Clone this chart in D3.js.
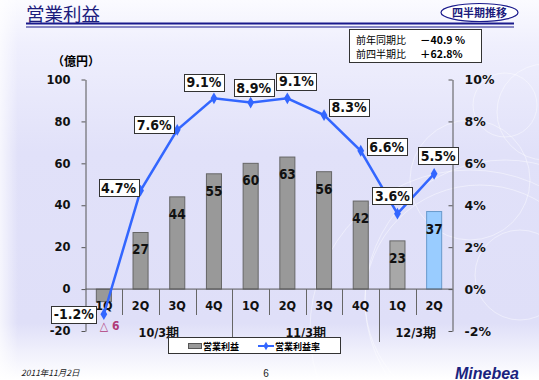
<!DOCTYPE html>
<html><head><meta charset="utf-8">
<script src="https://cdn.jsdelivr.net/npm/d3@7"></script>
<style>
body{margin:0;background:#fff}
svg{display:block}
.cn{font-family:"DejaVu Sans Condensed","DejaVu Sans",sans-serif;font-stretch:condensed;font-weight:bold}
.dj{font-family:"DejaVu Sans",sans-serif;font-weight:bold}
.jp{font-family:"Noto Sans CJK JP",sans-serif}
</style></head><body>
<svg id="c" width="539" height="380"></svg>
<script>
// ---- data ----
const quarters = ["1Q","2Q","3Q","4Q","1Q","2Q","3Q","4Q","1Q","2Q"];
const fiscalYears = ["10/3期","11/3期","12/3期"];
const fiscalOf = [0,0,0,0,1,1,1,1,2,2];
const profit = [-6,27,44,55,60,63,56,42,23,37];
const margin = [-1.2,4.7,7.6,9.1,8.9,9.1,8.3,6.6,3.6,5.5];
const profitLabels = ["△ 6","27","44","55","60","63","56","42","23","37"];
const marginLabels = ["-1.2%","4.7%","7.6%","9.1%","8.9%","9.1%","8.3%","6.6%","3.6%","5.5%"];
const leftTicks = [-20,0,20,40,60,80,100];
const rightTicks = [-2,0,2,4,6,8,10];
const yoyLabel = "前年同期比", yoyValue = "－40.9 %";
const qoqLabel = "前四半期比", qoqValue = "＋62.8%";
// ---- layout (label placement offsets, px) ----
const labelOffsets = [[-30,0],[-22,-3],[-23,-5],[-10,-16],[3,-15],[9,-17],[25,-8],[26,-4],[-5,-18],[4,-18]];

const svg = d3.select("#c");
const defs = svg.append("defs");
const g = defs.append("linearGradient").attr("id","bg").attr("x1",0).attr("y1",0).attr("x2",0).attr("y2",1);
[[0,"#fbfbff"],[0.12,"#efeffd"],[0.4,"#e1e1f9"],[0.85,"#dfdff8"],[0.93,"#f1f1fc"],[1,"#ffffff"]]
  .forEach(([o,c])=>g.append("stop").attr("offset",o).attr("stop-color",c));
svg.append("rect").attr("width",539).attr("height",380).attr("fill","url(#bg)");
const gl = defs.append("linearGradient").attr("id","bgl").attr("x1",0).attr("y1",0).attr("x2",1).attr("y2",0);
gl.append("stop").attr("offset",0).attr("stop-color","#fff").attr("stop-opacity",0.7);
gl.append("stop").attr("offset",1).attr("stop-color","#fff").attr("stop-opacity",0);
svg.append("rect").attr("width",18).attr("height",380).attr("fill","url(#bgl)");

// decorative circles
[[505,105,32],[545,112,48],[470,180,60],[520,275,45],[480,300,115],[505,300,140],[470,330,160]].forEach(([cx,cy,r])=>
  svg.append("circle").attr("cx",cx).attr("cy",cy).attr("r",r).attr("fill","none")
    .attr("stroke","#fff").attr("stroke-opacity",0.55).attr("stroke-width",0.8));

// title
svg.append("text").attr("class","jp").attr("x",26).attr("y",20.5).attr("font-size",18.5)
  .attr("fill","#1c1c7c").text("営業利益");
svg.append("line").attr("x1",26).attr("x2",514).attr("y1",23.5).attr("y2",23.5).attr("stroke","#1a1a8c").attr("stroke-width",2);
svg.append("line").attr("x1",26).attr("x2",514).attr("y1",27).attr("y2",27).attr("stroke","#1a1a8c").attr("stroke-width",1);
svg.append("ellipse").attr("cx",479.5).attr("cy",12.5).attr("rx",38.5).attr("ry",9)
  .attr("fill","#fff").attr("stroke","#1a1a8c").attr("stroke-width",1.2);
svg.append("text").attr("class","jp").attr("x",479.5).attr("y",16.5).attr("text-anchor","middle")
  .attr("font-size",11).attr("font-weight","bold").attr("fill","#1c1c7c").text("四半期推移");

// comparison box
svg.append("rect").attr("x",349.5).attr("y",29.5).attr("width",132).attr("height",33)
  .attr("fill","#fff").attr("stroke","#333");
[[yoyLabel,yoyValue,44],[qoqLabel,qoqValue,58]].forEach(([l,v,y])=>{
  svg.append("text").attr("class","jp").attr("x",356).attr("y",y).attr("font-size",10).attr("fill","#000").text(l);
  svg.append("text").attr("class","jp").attr("x",420).attr("y",y).attr("font-size",10.5).attr("font-weight","bold").attr("fill","#000").text(v);
});

// scales
const x = d3.scaleBand().domain(d3.range(quarters.length)).range([85.5,452.5]).padding(0);
const yL = d3.scaleLinear().domain([-20,100]).range([331,79.5]);
const yR = d3.scaleLinear().domain([-2,10]).range([331,79.5]);
const barW = x.bandwidth()*0.41;
const cx = i => x(i)+x.bandwidth()/2;

// unit
svg.append("text").attr("x",52).attr("y",66).attr("font-size",12).attr("font-weight","bold")
  .style("font-family","'Noto Sans CJK JP',sans-serif").text("（億円）");

// axes
const axL = svg.append("g").attr("transform","translate(85.5,0)")
  .call(d3.axisLeft(yL).tickValues(leftTicks).tickFormat(d=>String(d)).tickSizeInner(4).tickSizeOuter(0).tickPadding(11));
const axR = svg.append("g").attr("transform","translate(452.5,0)")
  .call(d3.axisRight(yR).tickValues(rightTicks).tickFormat(d=>String(d)+"%").tickSizeInner(-4).tickSizeOuter(0).tickPadding(12));
[axL,axR].forEach(a=>{a.selectAll("path,line").attr("stroke","#555");
  a.selectAll("text").attr("class","dj").attr("fill","#111");});
axL.selectAll("text").attr("font-size",11.5);
axR.selectAll("text").attr("font-size",12.5);

// bars
svg.append("g").selectAll("rect").data(profit).join("rect")
  .attr("x",(d,i)=>cx(i)-barW/2).attr("width",barW)
  .attr("y",d=>yL(Math.max(0,d))).attr("height",d=>Math.abs(yL(d)-yL(0)))
  .attr("fill",(d,i)=>i===9?"#99ccff":(i===8?"#a8a8a8":"#999999"))
  .attr("stroke",(d,i)=>i===9?"#6a9acc":"#666").attr("stroke-width",1);

// zero line and separators
svg.append("line").attr("x1",85.5).attr("x2",452.5).attr("y1",yL(0)).attr("y2",yL(0)).attr("stroke","#555");
d3.range(1,quarters.length).forEach(i=>{
  const major = fiscalOf[i]!==fiscalOf[i-1];
  svg.append("line").attr("x1",Math.round(x(i))+0.5).attr("x2",Math.round(x(i))+0.5)
    .attr("y1",yL(0)).attr("y2",major?342:315).attr("stroke","#666");
});

// category labels
svg.append("g").selectAll("text").data(quarters).join("text").attr("class","cn")
  .attr("x",(d,i)=>cx(i)).attr("y",310).attr("text-anchor","middle").attr("font-size",12.5).attr("fill","#111").text(d=>d);
svg.append("g").selectAll("text").data(fiscalYears).join("text").attr("class","cn")
  .attr("x",(d,k)=>{const idx=d3.range(10).filter(i=>fiscalOf[i]===k);return (x(idx[0])+x(idx[idx.length-1])+x.bandwidth())/2;})
  .attr("y",337).attr("text-anchor","middle").attr("font-size",12.5).attr("fill","#111").text(d=>d);

// bar value labels
svg.append("g").selectAll("text").data(profit).join("text").attr("class","cn")
  .attr("x",(d,i)=>d<0?cx(i)-4:cx(i)).attr("y",(d,i)=>d<0?330:yL(d)+22)
  .attr("text-anchor",d=>d<0?"start":"middle").attr("font-size",d=>d<0?12:13.5)
  .attr("fill",d=>d<0?"#b03a78":"#111").text((d,i)=>profitLabels[i]);

// line
const line = d3.line().x((d,i)=>cx(i)).y(d=>yR(d));
svg.append("path").datum(margin).attr("d",line).attr("fill","none").attr("stroke","#3366ff").attr("stroke-width",2.5);
svg.append("g").selectAll("path").data(margin).join("path")
  .attr("d",d3.symbol(d3.symbolDiamond,40)())
  .attr("transform",(d,i)=>`translate(${cx(i)},${yR(d)})`).attr("fill","#3366ff");

// margin labels
const lg = svg.append("g");
margin.forEach((d,i)=>{
  const px = cx(i)+labelOffsets[i][0], py = yR(d)+labelOffsets[i][1];
  const t = lg.append("text").attr("class","cn").attr("x",px).attr("y",py+5).attr("text-anchor","middle")
    .attr("font-size",14).attr("fill","#111").text(marginLabels[i]);
  const w = t.node().getComputedTextLength()+5;
  lg.insert("rect","text").attr("x",Math.round(px-w/2)+0.5).attr("y",Math.round(py-8.5)+0.5).attr("width",Math.round(w)).attr("height",17)
    .attr("fill","#fff").attr("stroke","#333");
});

// legend
svg.append("rect").attr("x",168.5).attr("y",337.5).attr("width",172).attr("height",16).attr("fill","#fff").attr("stroke","#333");
svg.append("rect").attr("x",188.5).attr("y",343.5).attr("width",13).attr("height",5).attr("fill","#999").attr("stroke","#555");
svg.append("text").attr("class","jp").attr("x",203).attr("y",349.5).attr("font-size",9).attr("font-weight","bold").text("営業利益");
svg.append("line").attr("x1",258).attr("x2",274).attr("y1",346).attr("y2",346).attr("stroke","#3366ff").attr("stroke-width",2);
svg.append("path").attr("d",d3.symbol(d3.symbolDiamond,22)()).attr("transform","translate(266,346)").attr("fill","#3366ff");
svg.append("text").attr("class","jp").attr("x",275).attr("y",349.5).attr("font-size",9).attr("font-weight","bold").text("営業利益率");

// footer
svg.append("text").attr("class","jp").attr("x",21).attr("y",376).attr("font-size",8.5).attr("font-style","italic").attr("fill","#222").text("2011年11月2日");
svg.append("text").attr("x",266).attr("y",377).attr("font-size",10).attr("text-anchor","middle")
  .style("font-family","'Liberation Sans',sans-serif").attr("fill","#222").text("6");
svg.append("text").attr("x",455).attr("y",378.5).attr("font-size",16).attr("font-weight","bold").attr("font-style","italic")
  .style("font-family","'Liberation Sans',sans-serif").attr("fill","#1a237e").text("Minebea");
</script>
</body></html>
